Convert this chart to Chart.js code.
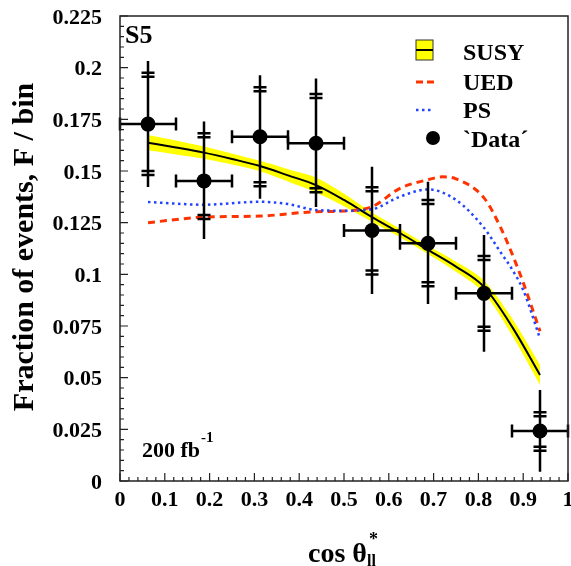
<!DOCTYPE html>
<html>
<head>
<meta charset="utf-8">
<script src="https://cdn.jsdelivr.net/npm/chart.js@4.4.1/dist/chart.umd.min.js"></script>
<style>
    html, body { margin: 0; padding: 0; background: #fff; }
</style>
</head>
<body>
<canvas id="chart" width="571" height="566"></canvas>
<script>
// axis ticks
const xTickValues = [0, 0.1, 0.2, 0.3, 0.4, 0.5, 0.6, 0.7, 0.8, 0.9, 1];
const xTickLabels = ['0', '0.1', '0.2', '0.3', '0.4', '0.5', '0.6', '0.7', '0.8', '0.9', '1'];
const yTickValues = [0, 0.025, 0.05, 0.075, 0.1, 0.125, 0.15, 0.175, 0.2, 0.225];
const yTickLabels = ['0', '0.025', '0.05', '0.075', '0.1', '0.125', '0.15', '0.175', '0.2', '0.225'];

// 'Data' points (bin centres, half widths, values, error bar ends, inner caps)
const binCenters = [0.0625, 0.1875, 0.3125, 0.4375, 0.5625, 0.6875, 0.8125, 0.9375];
const binHalfWidth = [0.0625, 0.0625, 0.0625, 0.0625, 0.0625, 0.0625, 0.0625, 0.0625];
const dataValues = [0.1727, 0.1452, 0.1666, 0.1634, 0.1212, 0.115, 0.0908, 0.0242];
const dataHigh = [0.2032, 0.1739, 0.1963, 0.1947, 0.1521, 0.1448, 0.119, 0.044];
const dataLow = [0.1423, 0.1171, 0.1366, 0.1326, 0.0905, 0.0856, 0.0626, 0.0045];
const capHigh = [0.1966, 0.1673, 0.1895, 0.1863, 0.1412, 0.135, 0.1079, 0.0323];
const capLow = [0.149, 0.1277, 0.1436, 0.1407, 0.1009, 0.0952, 0.0737, 0.0156];

// SUSY prediction with band
const susyX = [0.0625, 0.125, 0.1875, 0.25, 0.3125, 0.375, 0.4375, 0.5, 0.5625, 0.625, 0.6875, 0.75, 0.8125, 0.875, 0.9375];
const susyY = [0.1637, 0.1614, 0.1589, 0.1558, 0.1524, 0.1479, 0.1432, 0.136, 0.1277, 0.12, 0.1118, 0.1037, 0.0939, 0.0747, 0.0513];
const susyErr = [0.0037, 0.0034, 0.003, 0.0027, 0.0025, 0.003, 0.0036, 0.003, 0.0022, 0.002, 0.002, 0.0024, 0.003, 0.004, 0.0048];

// UED prediction
const uedX = [0.0625, 0.1875, 0.3125, 0.4375, 0.5, 0.5625, 0.625, 0.6875, 0.72, 0.75, 0.8125, 0.85, 0.875, 0.9, 0.9375];
const uedY = [0.125, 0.1277, 0.1282, 0.1303, 0.1306, 0.1327, 0.1416, 0.1458, 0.1472, 0.1462, 0.137, 0.1225, 0.11, 0.096, 0.0725];

// PS prediction
const psX = [0.0625, 0.1875, 0.3125, 0.375, 0.4375, 0.5, 0.5625, 0.625, 0.6875, 0.75, 0.8125, 0.85, 0.875, 0.9, 0.9375];
const psY = [0.135, 0.1337, 0.1351, 0.134, 0.1311, 0.1308, 0.1315, 0.1376, 0.1411, 0.136, 0.1225, 0.1105, 0.1025, 0.0924, 0.069];

const FONT = 'Liberation Serif';
const YELLOW = '#ffff00';
const RED = '#ff3300';
const BLUE = '#2244ff';

function pts(xs, ys) {
    return xs.map((x, i) => ({ x: x, y: ys[i] }));
}

// frame, inward ticks, error bars, legend and labels
const overlay = {
    id: 'overlay',
    afterDatasetsDraw(chart) {
        const ctx = chart.ctx;
        const x = chart.scales.x;
        const y = chart.scales.y;
        ctx.save();
        ctx.strokeStyle = '#000';
        ctx.lineWidth = 2.5;
        binCenters.forEach((c, i) => {
            const px = x.getPixelForValue(c);
            const py = y.getPixelForValue(dataValues[i]);
            const xl = x.getPixelForValue(c - binHalfWidth[i]);
            const xr = x.getPixelForValue(c + binHalfWidth[i]);
            ctx.beginPath();
            ctx.moveTo(xl, py); ctx.lineTo(xr, py);
            ctx.moveTo(xl, py - 6.5); ctx.lineTo(xl, py + 6.5);
            ctx.moveTo(xr, py - 6.5); ctx.lineTo(xr, py + 6.5);
            ctx.moveTo(px, y.getPixelForValue(dataHigh[i]));
            ctx.lineTo(px, y.getPixelForValue(dataLow[i]));
            [capHigh[i], capLow[i]].forEach(v => {
                const yy = y.getPixelForValue(v);
                [-2, 2].forEach(d => {
                    ctx.moveTo(px - 6.5, yy + d);
                    ctx.lineTo(px + 6.5, yy + d);
                });
            });
            ctx.stroke();
        });
        ctx.restore();
    },
    afterDraw(chart) {
        const ctx = chart.ctx;
        const a = chart.chartArea;
        const x = chart.scales.x;
        const y = chart.scales.y;
        ctx.save();

        // frame
        ctx.strokeStyle = '#222';
        ctx.lineWidth = 1.5;
        ctx.strokeRect(a.left, a.top, a.right - a.left, a.bottom - a.top);

        // ticks pointing into the plot
        ctx.lineWidth = 1.2;
        ctx.beginPath();
        for (let i = 0; i <= 45; i++) {
            const py = y.getPixelForValue(i * 0.005);
            const len = i % 5 === 0 ? 8 : 4;
            ctx.moveTo(a.left, py); ctx.lineTo(a.left + len, py);
        }
        for (let i = 0; i <= 50; i++) {
            const px = x.getPixelForValue(i * 0.02);
            const len = i % 5 === 0 ? 8 : 4;
            ctx.moveTo(px, a.bottom); ctx.lineTo(px, a.bottom - len);
        }
        ctx.stroke();

        ctx.fillStyle = '#000';

        // x tick labels
        ctx.font = 'bold 22px "' + FONT + '"';
        ctx.textAlign = 'center';
        ctx.textBaseline = 'middle';
        xTickValues.forEach((v, i) => {
            ctx.fillText(xTickLabels[i], x.getPixelForValue(v), a.bottom + 19);
        });

        ctx.textAlign = 'left';
        ctx.textBaseline = 'alphabetic';

        // S5 label
        ctx.font = 'bold 26px "' + FONT + '"';
        ctx.fillText('S5', 125, 43);

        // luminosity
        ctx.font = 'bold 22px "' + FONT + '"';
        ctx.fillText('200 fb', 142, 457);
        const w = ctx.measureText('200 fb').width;
        ctx.font = 'bold 15px "' + FONT + '"';
        ctx.fillText('-1', 142 + w + 1, 442);

        // legend
        ctx.fillStyle = YELLOW;
        ctx.fillRect(416, 40, 17, 20);
        ctx.strokeStyle = '#333';
        ctx.lineWidth = 1;
        ctx.strokeRect(416, 40, 17, 20);
        ctx.strokeStyle = '#000';
        ctx.lineWidth = 2;
        ctx.beginPath(); ctx.moveTo(416, 50); ctx.lineTo(433, 50); ctx.stroke();

        ctx.strokeStyle = RED;
        ctx.lineWidth = 3;
        ctx.setLineDash([7, 4]);
        ctx.beginPath(); ctx.moveTo(416, 82); ctx.lineTo(434, 82); ctx.stroke();

        ctx.strokeStyle = BLUE;
        ctx.lineWidth = 2.5;
        ctx.setLineDash([2.5, 3.5]);
        ctx.beginPath(); ctx.moveTo(416, 110); ctx.lineTo(434, 110); ctx.stroke();
        ctx.setLineDash([]);

        ctx.fillStyle = '#000';
        ctx.beginPath(); ctx.arc(433, 138, 7, 0, Math.PI * 2); ctx.fill();

        ctx.font = 'bold 24px "' + FONT + '"';
        ctx.fillText('SUSY', 463, 60);
        ctx.fillText('UED', 463, 90);
        ctx.fillText('PS', 463, 118);
        ctx.fillText('`Data\u00b4', 463, 147);

        // x title
        ctx.font = 'bold 28px "' + FONT + '"';
        ctx.fillText('cos \u03b8', 308, 562);
        const tw = ctx.measureText('cos \u03b8').width;
        ctx.font = 'bold 18px "' + FONT + '"';
        ctx.fillText('*', 308 + tw + 2, 545);
        ctx.font = 'bold 16px "' + FONT + '"';
        ctx.fillText('ll', 308 + tw, 566);

        // y title
        ctx.translate(33, 247);
        ctx.rotate(-Math.PI / 2);
        ctx.textAlign = 'center';
        ctx.font = 'bold 30px "' + FONT + '"';
        ctx.fillText('Fraction of events, F / bin', 0, 0);

        ctx.restore();
    }
};

const ctx = document.getElementById('chart').getContext('2d');
const chart = new Chart(ctx, {
    type: 'line',
    data: {
        datasets: [
            {
                label: 'Data',
                data: pts(binCenters, dataValues),
                showLine: false,
                pointRadius: 7.5,
                pointBackgroundColor: '#000',
                pointBorderWidth: 0,
                order: 0
            },
            {
                label: 'PS',
                data: pts(psX, psY),
                borderColor: BLUE,
                borderWidth: 2.5,
                borderDash: [2.5, 3.5],
                pointRadius: 0,
                cubicInterpolationMode: 'monotone',
                fill: false,
                order: 1
            },
            {
                label: 'UED',
                data: pts(uedX, uedY),
                borderColor: RED,
                borderWidth: 3,
                borderDash: [7, 5],
                pointRadius: 0,
                cubicInterpolationMode: 'monotone',
                fill: false,
                order: 2
            },
            {
                label: 'SUSY',
                data: pts(susyX, susyY),
                borderColor: '#000',
                borderWidth: 2,
                pointRadius: 0,
                cubicInterpolationMode: 'monotone',
                fill: false,
                order: 3
            },
            {
                label: 'SUSY low',
                data: pts(susyX, susyY.map((v, i) => v - susyErr[i])),
                borderWidth: 0,
                borderColor: YELLOW,
                pointRadius: 0,
                cubicInterpolationMode: 'monotone',
                fill: false,
                order: 5
            },
            {
                label: 'SUSY high',
                data: pts(susyX, susyY.map((v, i) => v + susyErr[i])),
                borderWidth: 0,
                borderColor: YELLOW,
                backgroundColor: YELLOW,
                pointRadius: 0,
                cubicInterpolationMode: 'monotone',
                fill: '-1',
                order: 4
            }
        ]
    },
    options: {
        responsive: false,
        animation: false,
        layout: { autoPadding: false, padding: { left: 0, right: 3, top: 16, bottom: 0 } },
        plugins: {
            legend: { display: false },
            tooltip: { enabled: false }
        },
        scales: {
            x: {
                type: 'linear',
                min: 0,
                max: 1,
                grid: { display: false, drawTicks: false },
                border: { display: false },
                ticks: { display: false },
                afterFit: function(scale) {
                    scale.height = 85;
                }
            },
            y: {
                min: 0,
                max: 0.225,
                grid: { display: false, drawTicks: false },
                border: { display: false },
                afterBuildTicks: function(scale) {
                    scale.ticks = yTickValues.map(v => ({ value: v }));
                },
                afterFit: function(scale) {
                    scale.width = 120;
                    scale.paddingTop = 0;
                    scale.paddingBottom = 0;
                },
                ticks: {
                    autoSkip: false,
                    padding: 18,
                    labelOffset: 2,
                    color: '#000',
                    font: { family: FONT, size: 22, weight: 'bold' },
                    callback: function(value, index) {
                        return yTickLabels[index];
                    }
                }
            }
        }
    },
    plugins: [overlay]
});
</script>
</body>
</html>
